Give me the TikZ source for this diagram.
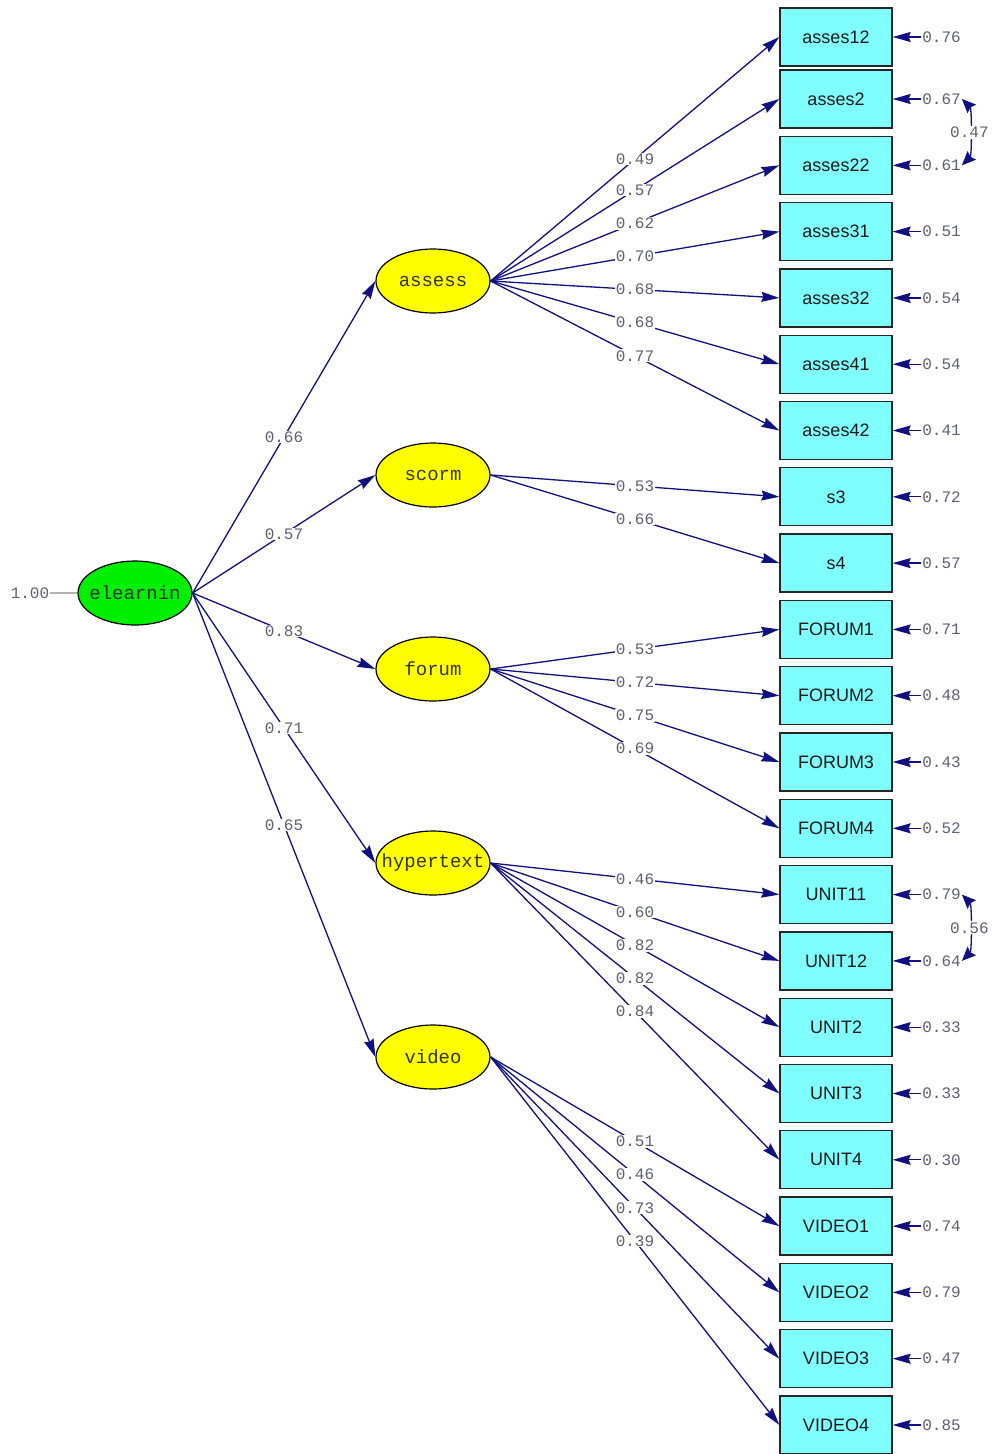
\documentclass[tikz,border=0pt]{standalone}
\usepackage{fontspec}
\setmainfont{Liberation Sans}
\newfontfamily\monof{Liberation Mono}
\usetikzlibrary{arrows.meta,shapes.geometric}
\definecolor{navyl}{RGB}{16,16,128}
\definecolor{numgray}{RGB}{95,95,112}
\definecolor{boxcyan}{RGB}{128,255,255}
\definecolor{latyellow}{RGB}{255,255,0}
\definecolor{latgreen}{RGB}{0,238,0}
\begin{document}
\begin{tikzpicture}[x=1pt,y=-1pt,
  obsbox/.style={draw=black!85,line width=1.3pt,fill=boxcyan,minimum width=112pt,minimum height=58pt,inner sep=0pt,font=\fontsize{18}{20}\selectfont,text=black!90},
  latent/.style={ellipse,draw=black,line width=1.2pt,fill=latyellow,minimum width=114pt,minimum height=64pt,inner sep=0pt,font=\monof\fontsize{19}{21}\selectfont,text=black!80},
  num/.style={font=\monof\fontsize{16}{18}\selectfont,text=numgray,fill=white,inner sep=1pt},
  errnum/.style={font=\monof\fontsize{16}{18}\selectfont,text=numgray,inner sep=1pt},
  loadarrow/.style={draw=navyl,line width=1.3pt,-{Stealth[length=18pt,width=10pt,inset=2pt]}},
  errarrow/.style={draw=navyl,line width=1.3pt,-{Stealth[length=18pt,width=10pt,inset=2pt]}},
  covarrow/.style={draw=navyl,line width=1.3pt,{Stealth[length=14pt,width=12pt,inset=2pt]}-{Stealth[length=14pt,width=12pt,inset=2pt]}},
  fixline/.style={draw=black!30,line width=1.2pt}
]
\useasboundingbox (0,0) rectangle (991,1454);
\clip (0,0) rectangle (991,1454);

% latent variables
\node[latent,fill=latgreen] (elearnin) at (135,593) {\makebox[0pt]{elearnin}};
\node[latent] (assess) at (433,281) {\makebox[0pt]{assess}};
\node[latent] (scorm) at (433,475) {\makebox[0pt]{scorm}};
\node[latent] (forum) at (433,669) {\makebox[0pt]{forum}};
\node[latent] (hypertext) at (433,863) {\makebox[0pt]{hypertext}};
\node[latent] (video) at (433,1057) {\makebox[0pt]{video}};

% fixed variance
\node[errnum] (fix) at (30,593) {1.00};
\draw[fixline] (fix.east) -- (elearnin.west);

% second-order loadings
\draw[loadarrow] (elearnin.east) -- node[num]{0.66} (assess.west);
\draw[loadarrow] (elearnin.east) -- node[num]{0.57} (scorm.west);
\draw[loadarrow] (elearnin.east) -- node[num]{0.83} (forum.west);
\draw[loadarrow] (elearnin.east) -- node[num]{0.71} (hypertext.west);
\draw[loadarrow] (elearnin.east) -- node[num]{0.65} (video.west);

% indicators
\foreach \i/\nm/\lat/\ld/\er in {
  0/asses12/assess/0.49/0.76,
  1/asses2/assess/0.57/0.67,
  2/asses22/assess/0.62/0.61,
  3/asses31/assess/0.70/0.51,
  4/asses32/assess/0.68/0.54,
  5/asses41/assess/0.68/0.54,
  6/asses42/assess/0.77/0.41,
  7/s3/scorm/0.53/0.72,
  8/s4/scorm/0.66/0.57,
  9/FORUM1/forum/0.53/0.71,
  10/FORUM2/forum/0.72/0.48,
  11/FORUM3/forum/0.75/0.43,
  12/FORUM4/forum/0.69/0.52,
  13/UNIT11/hypertext/0.46/0.79,
  14/UNIT12/hypertext/0.60/0.64,
  15/UNIT2/hypertext/0.82/0.33,
  16/UNIT3/hypertext/0.82/0.33,
  17/UNIT4/hypertext/0.84/0.30,
  18/VIDEO1/video/0.51/0.74,
  19/VIDEO2/video/0.46/0.79,
  20/VIDEO3/video/0.73/0.47,
  21/VIDEO4/video/0.39/0.85}{
  \pgfmathsetmacro{\yy}{\i==0 ? 37 : 99+66.3*(\i-1)}
  \node[obsbox] (o\i) at (836,\yy) {\nm};
  \node[errnum] (e\i) at (941.5,\yy) {\er};
  \draw[errarrow] (e\i.west) -- (o\i.east);
  \draw[loadarrow] (\lat.east) -- node[num]{\ld} (o\i.west);
}

% error covariances
\draw[covarrow] (e1.east) .. controls +(10,10) and +(10,-10) .. node[num]{0.47} (e2.east);
\draw[covarrow] (e13.east) .. controls +(10,10) and +(10,-10) .. node[num]{0.56} (e14.east);
\end{tikzpicture}
\end{document}
